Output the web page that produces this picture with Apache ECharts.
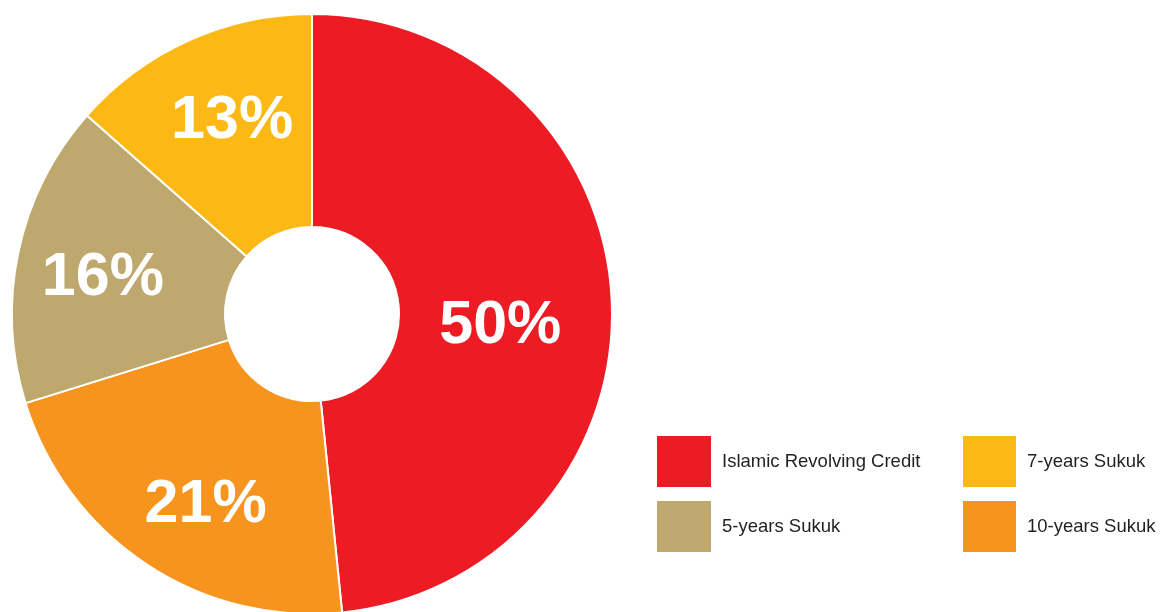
<!DOCTYPE html>
<html>
<head>
<meta charset="utf-8">
<script src="https://cdn.jsdelivr.net/npm/echarts@6/dist/echarts.min.js"></script>
<style>
  html, body { margin: 0; padding: 0; background: #fff; }
  #chart { width: 1163px; height: 612px; }
</style>
</head>
<body>
<div id="chart"></div>
<script>
const categories = ['Islamic Revolving Credit', '10-years Sukuk', '5-years Sukuk', '7-years Sukuk']
const values = [48.4, 21.8, 16.3, 13.5]
const labels = ['50%', '21%', '16%', '13%']
const colors = ['#ED1C24', '#F7941D', '#BFA86D', '#FCB814']

// nudge labels a bit outward like the original
const labelOffsets = [[-8, 22], [2, 27], [-17, 5], [1, -14]]

const myChart = echarts.init(document.getElementById('chart'))

const legendText = {
  fontSize: 18.5,
  color: '#231F20',
  fontFamily: '"Liberation Sans", Arial, sans-serif',
  padding: [0, 0, 0, 5]
}

const option = {
  animation: false,
  color: colors,
  legend: [
    {
      orient: 'vertical',
      left: 655,
      top: 434,
      padding: 0,
      itemWidth: 56,
      itemHeight: 53,
      itemGap: 10,
      icon: 'rect',
      selectedMode: false,
      textStyle: legendText,
      data: [categories[0], categories[2]]
    },
    {
      orient: 'vertical',
      left: 961,
      top: 434,
      padding: 0,
      itemWidth: 55,
      itemHeight: 53,
      itemGap: 10,
      icon: 'rect',
      selectedMode: false,
      textStyle: legendText,
      data: [categories[3], categories[1]]
    }
  ],
  series: [
    {
      type: 'pie',
      center: [312, 314],
      radius: [87, 300],
      startAngle: 90,
      clockwise: true,
      silent: true,
      itemStyle: {
        borderColor: '#fff',
        borderWidth: 2
      },
      label: {
        show: true,
        position: 'inside',
        color: '#fff',
        fontSize: 61,
        fontWeight: 'bold',
        fontFamily: '"Liberation Sans", Arial, sans-serif',
        formatter: p => labels[p.dataIndex]
      },
      labelLine: { show: false },
      data: categories.map((name, i) => ({
        name: name,
        value: values[i],
        label: { offset: labelOffsets[i] }
      }))
    }
  ]
}

myChart.setOption(option)
</script>
</body>
</html>
